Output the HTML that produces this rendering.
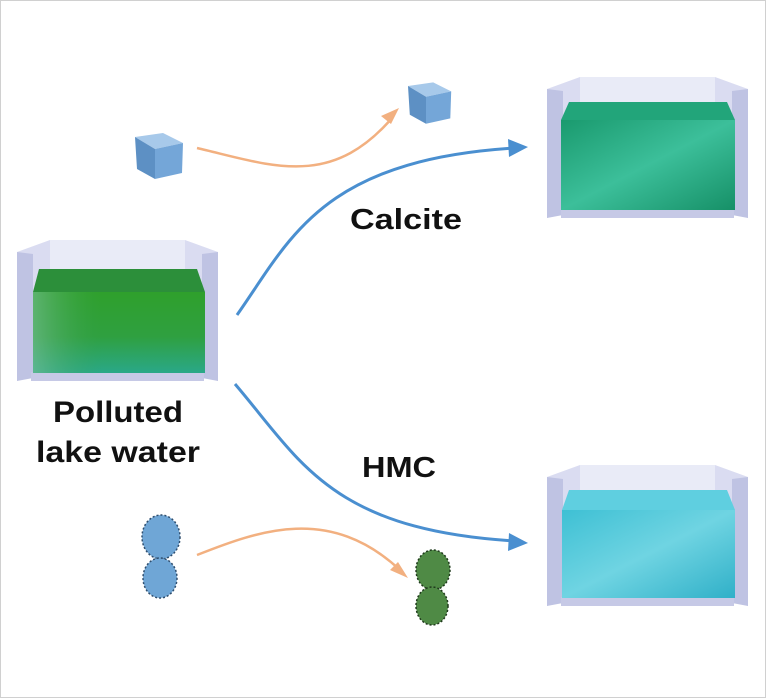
<!DOCTYPE html>
<html><head><meta charset="utf-8"><style>
html,body{margin:0;padding:0;background:#fff}
svg{display:block}
text{font-family:"Liberation Sans",Arial,sans-serif;font-weight:bold;fill:#111}
</style></head><body>
<svg width="767" height="699" viewBox="0 0 767 699" xmlns="http://www.w3.org/2000/svg">
<defs>
<g id="tank">
  <rect x="33" y="0" width="135" height="60" fill="#e9ebf7"/>
  <polygon points="0,12 33,0 33,130 0,141" fill="#dadcf1"/>
  <polygon points="0,12 16,14 16,138 0,141" fill="#bfc3e3"/>
  <polygon points="201,12 168,0 168,130 201,141" fill="#dadcf1"/>
  <polygon points="201,12 185,14 185,138 201,141" fill="#bfc3e3"/>
  <rect x="14" y="132" width="173" height="9" fill="#c6c9e6"/>
</g>
<linearGradient id="gPol" x1="0" y1="0" x2="0" y2="1">
  <stop offset="0" stop-color="#2fa02c"/><stop offset="0.55" stop-color="#2fa040"/><stop offset="1" stop-color="#2aa888"/>
</linearGradient>
<linearGradient id="gPolL" x1="0" y1="0" x2="1" y2="0">
  <stop offset="0" stop-color="#7cc09a" stop-opacity="0.6"/><stop offset="0.4" stop-color="#3aa24a" stop-opacity="0"/>
</linearGradient>
<linearGradient id="gCal" x1="0" y1="0" x2="1" y2="1">
  <stop offset="0" stop-color="#1a9a6e"/><stop offset="0.5" stop-color="#3cbf9a"/><stop offset="1" stop-color="#169067"/>
</linearGradient>
<linearGradient id="gHmc" x1="0" y1="0" x2="1" y2="1">
  <stop offset="0" stop-color="#3ec0d4"/><stop offset="0.5" stop-color="#6fd4e2"/><stop offset="1" stop-color="#30b0c8"/>
</linearGradient>
<g id="cube">
  <polygon points="0,10 28,6 48,16 20,22" fill="#a7c9ea"/>
  <polygon points="0,10 20,22 20,52 2,42" fill="#5d90c4"/>
  <polygon points="20,22 48,16 47,46 20,52" fill="#74a6d8"/>
</g>
</defs>
<rect x="0.5" y="0.5" width="765" height="697" fill="#fff" stroke="#d0d0d0"/>

<g transform="translate(17,240)">
  <use href="#tank"/>
  <polygon points="22,29 180,29 188,52 16,52" fill="#2c8f3a"/>
  <rect x="16" y="52" width="172" height="81" fill="url(#gPol)"/>
  <rect x="16" y="52" width="172" height="81" fill="url(#gPolL)"/>
</g>
<g transform="translate(547,77)">
  <use href="#tank"/>
  <polygon points="22,25 180,25 188,43 14,43" fill="#22a57a"/>
  <rect x="14" y="43" width="174" height="90" fill="url(#gCal)"/>
</g>
<g transform="translate(547,465)">
  <use href="#tank"/>
  <polygon points="22,25 180,25 188,45 15,45" fill="#5fcfe0"/>
  <rect x="15" y="45" width="173" height="88" fill="url(#gHmc)"/>
</g>

<use href="#cube" transform="translate(135,127)"/>
<use href="#cube" transform="translate(408,77) scale(0.9)"/>

<g fill="#6fa6d6" stroke="#2f4e6e" stroke-width="1.5" stroke-dasharray="2 2">
  <ellipse cx="161" cy="537" rx="19" ry="22"/>
  <ellipse cx="160" cy="578" rx="17" ry="20"/>
</g>
<g fill="#4f8a45" stroke="#1f3a1c" stroke-width="1.5" stroke-dasharray="2 2">
  <ellipse cx="433" cy="570" rx="17" ry="20"/>
  <ellipse cx="432" cy="606" rx="16" ry="19"/>
</g>

<g stroke="#f2b080" stroke-width="2.5" fill="none">
  <path d="M197,148 C270,165 330,190 392,118"/>
  <path d="M197,555 C260,530 330,505 400,570"/>
</g>
<polygon points="399,108 381,116 391,124" fill="#f2b080"/>
<polygon points="408,578 390,570 398,562" fill="#f2b080"/>

<g stroke="#4a8fd0" stroke-width="3" fill="none">
  <path d="M237,315 C290,240 320,160 515,148"/>
  <path d="M235,384 C300,460 330,530 515,541"/>
</g>
<polygon points="528,147 508,139 509,157" fill="#4a8fd0"/>
<polygon points="528,543 509,533 508,551" fill="#4a8fd0"/>

<text x="350" y="229" font-size="29" textLength="112" lengthAdjust="spacingAndGlyphs">Calcite</text>
<text x="362" y="477" font-size="29" textLength="74" lengthAdjust="spacingAndGlyphs">HMC</text>
<text x="53" y="422" font-size="30" textLength="130" lengthAdjust="spacingAndGlyphs">Polluted</text>
<text x="36" y="462" font-size="30" textLength="164" lengthAdjust="spacingAndGlyphs">lake water</text>
</svg>
</body></html>
